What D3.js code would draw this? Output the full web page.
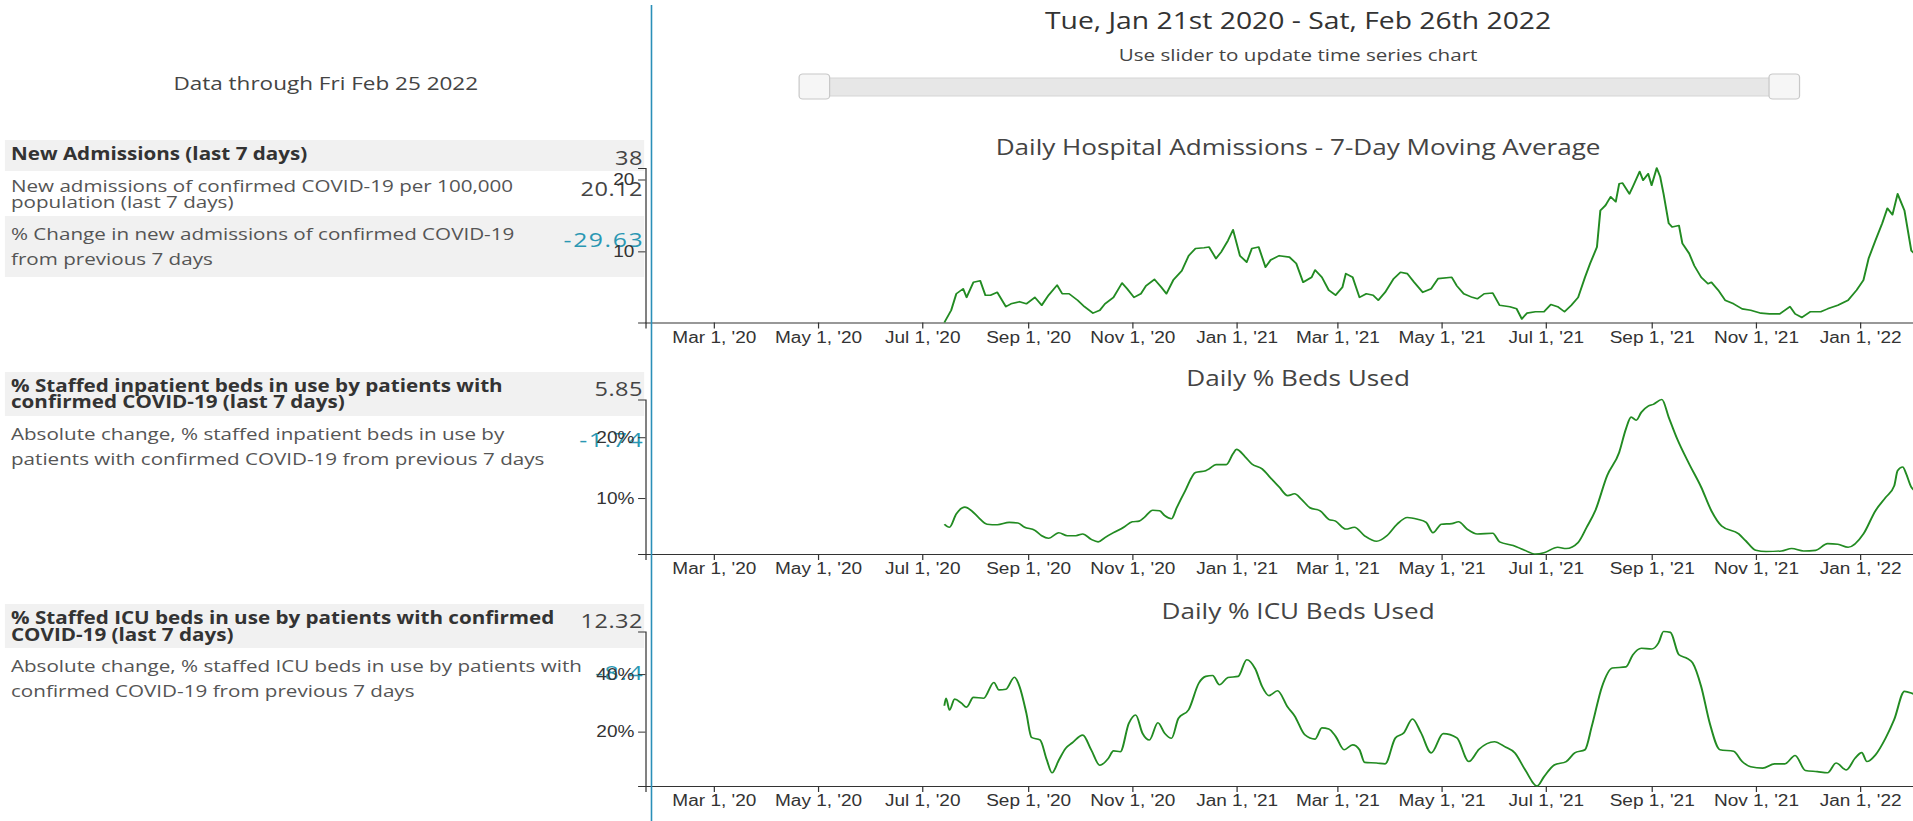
<!DOCTYPE html>
<html>
<head>
<meta charset="utf-8">
<script src="https://cdn.jsdelivr.net/npm/d3@7"></script>
<style>
	body { margin: 0; overflow: hidden; background: #fff; }
	svg { display: block; }
</style>
</head>
<body>
<svg id="page"></svg>
<script>
// --- data ---
const START = new Date( 2020, 0, 21 ),
	END = new Date( 2022, 1, 26 )

const dataThrough = 'Data through Fri Feb 25 2022'
const rangeTitle = 'Tue, Jan 21st 2020 - Sat, Feb 26th 2022'
const sliderNote = 'Use slider to update time series chart'
const chartTitles = [ 'Daily Hospital Admissions - 7-Day Moving Average', 'Daily % Beds Used', 'Daily % ICU Beds Used' ]

const rowLabels = [
	[ 'New Admissions (last 7 days)' ],
	[ 'New admissions of confirmed COVID-19 per 100,000', 'population (last 7 days)' ],
	[ '% Change in new admissions of confirmed COVID-19', 'from previous 7 days' ],
	[ '% Staffed inpatient beds in use by patients with', 'confirmed COVID-19 (last 7 days)' ],
	[ 'Absolute change, % staffed inpatient beds in use by', 'patients with confirmed COVID-19 from previous 7 days' ],
	[ '% Staffed ICU beds in use by patients with confirmed', 'COVID-19 (last 7 days)' ],
	[ 'Absolute change, % staffed ICU beds in use by patients with', 'confirmed COVID-19 from previous 7 days' ]
]
const rowValues = [ '38', '20.12', '-29.63', '5.85', '-1.74', '12.32', '-8.4' ]

// [days since Jan 21 2020, value]
const admissions = [[175,0.1],[179,1.8],[182,4.1],[186,4.8],[188,3.6],[192,5.7],[196,5.9],[199,3.9],[202,3.9],[206,4.3],[211,2.3],[214,2.7],[219,3.0],[223,2.7],[228,3.6],[232,2.5],[236,3.9],[241,5.3],[244,4.1],[248,4.1],[253,3.2],[257,2.3],[262,1.4],[266,1.8],[269,2.7],[274,3.6],[279,5.6],[282,4.8],[286,3.6],[290,4.1],[293,5.2],[298,6.1],[302,5.0],[305,4.1],[309,6.0],[314,7.3],[318,9.4],[322,10.4],[327,10.5],[330,10.6],[334,9.0],[337,9.9],[341,11.5],[344,13.0],[348,9.4],[352,8.5],[355,10.4],[359,10.6],[363,7.8],[366,8.8],[371,9.4],[377,9.2],[381,8.3],[385,5.7],[390,6.4],[392,7.4],[396,6.4],[400,4.6],[404,3.9],[408,5.0],[410,6.9],[414,6.4],[418,3.6],[422,4.1],[426,3.9],[429,3.2],[433,4.3],[438,6.2],[442,7.1],[446,6.9],[450,5.7],[455,4.3],[460,4.8],[464,6.2],[472,6.4],[475,5.2],[479,4.1],[484,3.6],[487,3.4],[491,4.1],[496,4.2],[500,2.5],[506,2.3],[510,2.0],[513,0.6],[516,1.4],[521,1.6],[526,1.6],[530,2.6],[534,2.3],[538,1.6],[542,2.5],[546,3.6],[550,6.4],[553,8.3],[557,10.6],[559,15.7],[562,16.4],[565,17.6],[568,16.9],[570,19.4],[572,19.5],[576,18.0],[578,19.0],[582,21.1],[584,19.9],[587,20.8],[589,19.2],[592,21.6],[594,20.4],[596,18.0],[599,13.9],[601,13.4],[605,13.6],[607,11.1],[611,9.7],[614,8.0],[618,6.4],[622,5.5],[624,5.7],[628,4.6],[632,3.2],[637,2.7],[642,2.0],[647,1.8],[653,1.4],[658,1.3],[664,1.3],[670,2.3],[673,1.3],[677,0.8],[682,1.6],[688,1.6],[692,2.0],[698,2.5],[704,3.2],[709,4.6],[713,6.0],[716,9.0],[720,11.5],[724,13.9],[727,16.0],[730,15.1],[733,18.0],[737,15.7],[741,10.1],[748,8.6],[755,7.4],[762,6.3],[766,5.8]]

const bedsUsed = [[175,5.7],[178,5.2],[182,7.4],[187,8.5],[191,7.9],[195,6.8],[200,5.7],[206,5.6],[213,6.0],[218,5.9],[222,5.2],[228,4.7],[232,3.8],[236,3.4],[242,4.3],[247,3.8],[252,3.8],[256,4.1],[261,3.2],[265,2.8],[269,3.5],[274,4.3],[280,5.2],[285,6.1],[289,6.2],[292,6.8],[297,8.0],[301,7.9],[304,7.1],[308,6.6],[311,8.4],[316,11.2],[322,14.2],[328,14.5],[330,14.8],[334,15.5],[340,15.5],[344,17.3],[346,18.0],[351,16.8],[355,15.6],[361,14.8],[366,13.3],[371,11.8],[376,10.4],[380,10.7],[384,9.8],[389,8.4],[395,7.9],[400,6.5],[404,6.2],[410,4.9],[415,5.2],[421,3.8],[428,2.9],[434,3.8],[440,5.7],[446,6.8],[452,6.5],[457,6.0],[461,4.3],[466,5.7],[472,5.8],[476,6.1],[481,4.9],[487,4.1],[496,4.2],[500,2.8],[508,2.2],[514,1.5],[521,0.8],[526,1.0],[534,1.9],[539,1.7],[546,2.7],[551,5.2],[556,7.9],[563,13.7],[570,17.5],[574,21.4],[577,23.3],[580,22.8],[583,24.1],[587,25.1],[590,25.4],[595,26.2],[599,23.3],[604,19.7],[611,15.6],[618,11.8],[624,7.9],[630,5.4],[640,4.1],[644,3.0],[650,1.4],[656,1.2],[665,1.3],[671,1.7],[678,1.3],[685,1.4],[692,2.5],[698,2.4],[704,1.9],[713,4.1],[720,7.9],[726,10.1],[731,12.0],[733,14.5],[736,15.1],[738,14.0],[741,11.8],[748,10.3],[755,8.8],[762,7.4],[766,6.8]]

const icuUsed = [[175,29.0],[176,31.6],[178,27.5],[181,31.3],[185,29.9],[188,28.5],[192,31.9],[198,31.6],[204,37.1],[207,34.5],[211,34.7],[216,38.9],[219,35.7],[223,26.4],[226,18.0],[231,17.1],[235,10.1],[238,5.7],[242,10.1],[246,14.2],[250,16.2],[256,18.8],[261,13.6],[266,8.3],[271,10.7],[274,13.3],[278,13.0],[283,22.9],[287,25.8],[291,19.4],[295,17.1],[300,23.1],[304,19.4],[308,17.7],[312,24.6],[318,27.6],[324,36.9],[328,39.2],[332,39.5],[336,36.3],[341,38.8],[347,39.2],[352,45.0],[357,41.8],[361,35.7],[365,32.5],[370,34.2],[376,28.5],[380,25.5],[386,18.9],[392,17.4],[396,21.3],[400,20.9],[404,18.4],[409,13.7],[414,15.4],[418,13.7],[421,9.3],[428,9.1],[433,8.8],[439,17.8],[444,19.6],[449,24.4],[454,19.6],[460,12.6],[467,19.3],[475,17.8],[482,9.6],[488,13.9],[497,16.5],[503,14.8],[509,12.6],[515,6.7],[522,1.1],[526,4.3],[532,8.4],[539,9.6],[544,12.6],[550,13.7],[554,21.9],[560,35.7],[566,42.1],[574,42.5],[578,46.7],[583,49.0],[589,48.7],[593,50.8],[596,54.8],[600,54.5],[605,46.7],[610,45.4],[613,43.9],[618,35.7],[623,23.0],[629,13.7],[637,13.2],[642,9.6],[647,7.8],[654,7.3],[661,8.8],[667,8.8],[673,11.7],[679,6.5],[686,6.1],[692,5.7],[697,9.1],[703,6.7],[708,10.7],[712,12.7],[715,9.6],[720,11.9],[726,17.8],[731,24.2],[737,34.0],[741,33.4],[748,31.0],[755,27.5],[762,24.0],[766,22.0]]

// --- layout ---
// the page is drawn 1568 wide and stretched to the 1913 window
const W = 1568, H = 821, FULLW = 1913
const leftW = 534, midX = 1064
const sans = '"Open Sans", sans-serif'
const teal = '#2a97b3'

const svg = d3.select( '#page' )
	.attr( 'width', FULLW )
	.attr( 'height', H )
	.attr( 'viewBox', `0 0 ${W} ${H}` )
	.attr( 'preserveAspectRatio', 'none' )

// left panel
svg.append( 'text' )
	.attr( 'x', leftW / 2 ).attr( 'y', 90 )
	.attr( 'text-anchor', 'middle' )
	.style( 'font', `18.45px ${sans}` ).attr( 'fill', '#444' )
	.text( dataThrough )

const rowLayout = [
	{ y0: 140, y1: 171, bold: true, gray: true, lines: [ 160 ], val: 165 },
	{ y0: 171, y1: 216, gray: false, lines: [ 192, 208 ], val: 196 },
	{ y0: 216, y1: 277, gray: true, lines: [ 240, 265 ], val: 247, change: true },
	{ y0: 372, y1: 416, bold: true, gray: true, lines: [ 392, 408 ], val: 396 },
	{ y0: 416, y1: 470, gray: false, lines: [ 440, 465 ], val: 447, change: true },
	{ y0: 604, y1: 648, bold: true, gray: true, lines: [ 624, 641 ], val: 628 },
	{ y0: 648, y1: 700, gray: false, lines: [ 672, 697 ], val: 680, change: true }
]

const rows = svg.append( 'g' ).selectAll( 'g' )
	.data( rowLayout )
	.join( 'g' )

rows.filter( d => d.gray ).append( 'rect' )
	.attr( 'x', 4 ).attr( 'width', 524 )
	.attr( 'y', d => d.y0 ).attr( 'height', d => d.y1 - d.y0 )
	.attr( 'fill', '#f1f1f1' )

rows.each( function( d, i ) {
	const g = d3.select( this )
	rowLabels[ i ].forEach( ( line, j ) => {
		g.append( 'text' )
			.attr( 'x', 9 ).attr( 'y', d.lines[ j ] )
			.style( 'font', `${d.bold ? 'bold ' : ''}16.9px ${sans}` )
			.attr( 'fill', d.bold ? '#333' : '#555' )
			.text( line )
	})
	// change values are a bit bigger and wider
	g.append( 'text' )
		.attr( 'x', d.change ? 528 : 527 ).attr( 'y', d.val )
		.attr( 'text-anchor', 'end' )
		.style( 'font', `${d.change ? 20.3 : 19.3}px ${sans}` )
		.style( 'letter-spacing', d.change ? '1.3px' : '0.4px' )
		.attr( 'fill', d.change ? teal : '#444' )
		.text( rowValues[ i ] )
})

// header + slider
svg.append( 'text' )
	.attr( 'x', midX ).attr( 'y', 29 )
	.attr( 'text-anchor', 'middle' )
	.style( 'font', `23.2px ${sans}` ).attr( 'fill', '#333' )
	.text( rangeTitle )

svg.append( 'text' )
	.attr( 'x', midX ).attr( 'y', 61 )
	.attr( 'text-anchor', 'middle' )
	.style( 'font', `16.9px ${sans}` ).attr( 'fill', '#444' )
	.text( sliderNote )

svg.append( 'rect' )
	.attr( 'x', 660 ).attr( 'y', 78 ).attr( 'width', 810 ).attr( 'height', 18 )
	.attr( 'rx', 3 )
	.attr( 'fill', '#e7e7e7' ).attr( 'stroke', '#d6d6d6' )

svg.selectAll( '.handle' )
	.data( [ 655, 1450 ] )
	.join( 'rect' )
	.attr( 'class', 'handle' )
	.attr( 'x', d => d ).attr( 'y', 74 ).attr( 'width', 25 ).attr( 'height', 25 )
	.attr( 'rx', 3 )
	.attr( 'fill', '#f6f6f6' ).attr( 'stroke', '#c8c8c8' )

// charts
const x = d3.scaleTime()
	.domain( [ START, END ] )
	.range( [ 529, 1603 ] )

const chartTops = [ 168, 399.5, 631.5 ], chartH = 154.5
const titleBase = [ 155, 386, 619 ]
const series = [ admissions, bedsUsed, icuUsed ]
const formats = [ d => d, d => d + '%', d => d + '%' ]

series.forEach( ( s, i ) => {
	const pts = s.map( p => ( { date: d3.timeDay.offset( START, p[ 0 ] ), v: p[ 1 ] } ) )
	const y = d3.scaleLinear()
		.domain( d3.extent( pts, p => p.v ) )
		.range( [ chartTops[ i ] + chartH, chartTops[ i ] ] )

	const g = svg.append( 'g' )

	g.append( 'text' )
		.attr( 'x', midX ).attr( 'y', titleBase[ i ] )
		.attr( 'text-anchor', 'middle' )
		.style( 'font', `21.4px ${sans}` ).attr( 'fill', '#444' )
		.text( chartTitles[ i ] )

	const xAxis = g.append( 'g' )
		.attr( 'transform', `translate(0, ${chartTops[ i ] + chartH})` )
		.call( d3.axisBottom( x ).ticks( d3.timeMonth.every( 2 ) ).tickFormat( d3.timeFormat( "%b %-d, '%y" ) ) )

	const yAxis = g.append( 'g' )
		.attr( 'transform', `translate(${x.range()[ 0 ]}, 0)` )
		.call( d3.axisLeft( y ).ticks( 2 ).tickFormat( formats[ i ] ) )

	;[ xAxis, yAxis ].forEach( a => {
		a.selectAll( 'text' ).style( 'font', '15.6px "Liberation Sans", Arial, sans-serif' ).attr( 'fill', '#333' )
		a.selectAll( 'path, line' ).attr( 'stroke', '#333' )
	})

	g.append( 'path' )
		.datum( pts )
		.attr( 'fill', 'none' )
		.attr( 'stroke', '#228b22' )
		.attr( 'stroke-width', 1.6 )
		.attr( 'stroke-linejoin', 'round' )
		.attr( 'd', d3.line()
			.x( p => x( p.date ) )
			.y( p => y( p.v ) )
			.curve( i === 0 ? d3.curveLinear : d3.curveMonotoneX ) )
})

// column divider
svg.append( 'line' )
	.attr( 'x1', leftW ).attr( 'x2', leftW )
	.attr( 'y1', 5 ).attr( 'y2', H )
	.attr( 'stroke', '#2a8fb8' ).attr( 'stroke-width', 1.3 )
</script>
</body>
</html>
